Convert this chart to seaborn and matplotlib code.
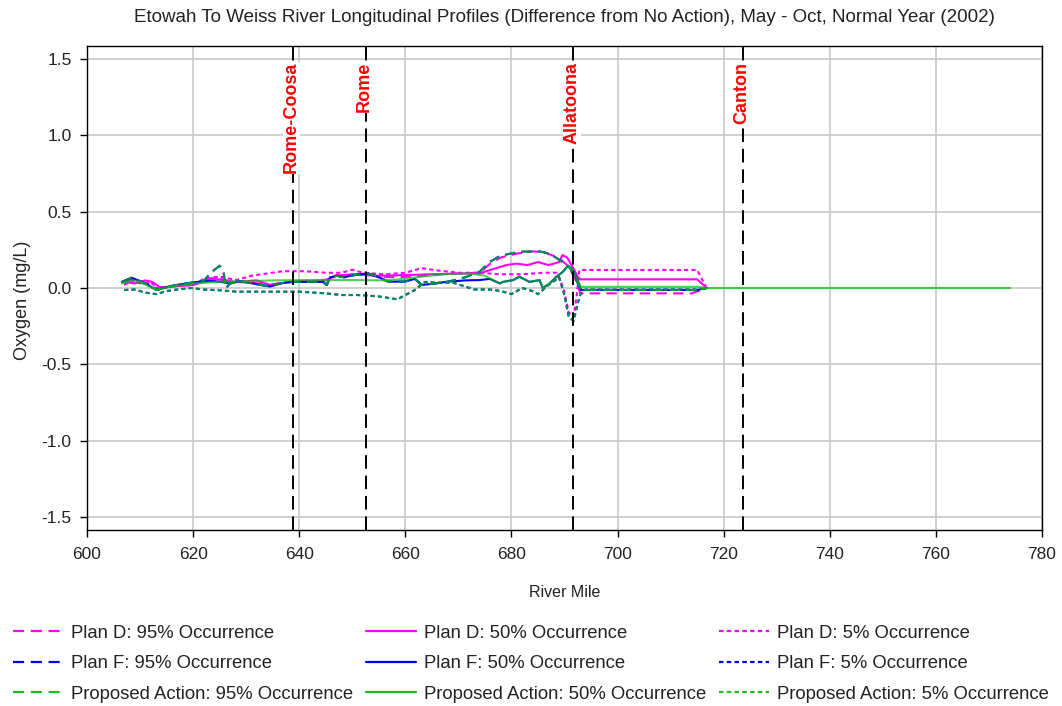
import matplotlib
matplotlib.use("Agg")
import matplotlib.pyplot as plt
from matplotlib.lines import Line2D
import seaborn as sns

# ---- longitudinal profile data: river mile vs oxygen difference (mg/L) ----
plan_d_95_mile = [607, 608.5, 610, 611.5, 613, 615, 617, 619.7, 622, 624, 626, 628, 631, 634.5, 637,
                  640, 644, 645.5, 647, 649, 651, 653, 655.5, 658, 661, 664, 667, 670, 674, 676, 678,
                  681, 684, 686, 688, 689.5, 690.8, 692, 693, 714, 716.8]
plan_d_95_val = [0.03, 0.06, 0.04, 0.03, 0.0, 0.01, 0.02, 0.03, 0.045, 0.07, 0.05, 0.04, 0.035, 0.02, 0.035,
                 0.04, 0.045, 0.06, 0.085, 0.08, 0.09, 0.09, 0.075, 0.07, 0.075, 0.08, 0.09, 0.095, 0.1, 0.16, 0.2,
                 0.225, 0.24, 0.235, 0.21, 0.18, 0.14, 0.06, -0.035, -0.035, 0.0]

plan_d_50_mile = [607, 609, 611, 612.3, 614, 616, 618, 620, 622, 624, 626, 628, 632, 634.5, 636, 640, 645,
                  647, 650, 655, 660, 665, 670, 674, 676, 679, 681, 683, 685, 687, 689, 689.6, 690.5, 691.5,
                  692.5, 693, 715, 716.8]
plan_d_50_val = [0.04, 0.03, 0.05, 0.04, 0.0, 0.01, 0.015, 0.02, 0.04, 0.06, 0.05, 0.04, 0.05, 0.02, 0.03, 0.045,
                 0.05, 0.08, 0.09, 0.08, 0.085, 0.09, 0.095, 0.096, 0.118, 0.15, 0.16, 0.15, 0.17, 0.15, 0.17, 0.216,
                 0.2, 0.14, 0.074, 0.057, 0.057, 0.0]

plan_d_5_mile = [607, 608.5, 610, 612, 613.5, 616, 620, 622, 625, 628.2, 631, 634.5, 637, 641, 645, 648, 650,
                 652, 656, 660, 663, 666, 670, 674, 678, 682, 686, 688.5, 689.8, 690.8, 691.7, 692.3, 692.8,
                 715, 716.8]
plan_d_5_val = [0.02, 0.05, 0.03, 0.035, 0.0, 0.01, 0.02, 0.06, 0.075, 0.052, 0.08, 0.098, 0.11, 0.11, 0.1, 0.1,
                0.12, 0.1, 0.09, 0.1, 0.13, 0.115, 0.1, 0.1, 0.09, 0.09, 0.1, 0.1, 0.0, -0.16, -0.19, -0.05, 0.118,
                0.118, 0.0]

proposed_95_mile = [606.6, 608.4, 610, 611.5, 613.1, 615, 617, 619.7, 622, 623.2, 625, 625.7, 626.2, 627,
                    628.8, 632, 634.5, 636.5, 638.3, 644.5, 645.2, 645.8, 647.1, 648.5, 649.6, 651.5, 653,
                    655.5, 656.8, 659.9, 661.8, 663.1, 665.6, 668.1, 671.3, 674, 675.9, 677.8, 681.5, 685.3,
                    687.2, 689.1, 690.9, 692.2, 693.1, 715, 716.8]
proposed_95_val = [0.04, 0.067, 0.045, 0.02, -0.013, 0.005, 0.02, 0.035, 0.045, 0.096, 0.146, 0.11, 0.0, 0.03,
                   0.046, 0.025, 0.01, 0.03, 0.04, 0.04, 0.02, 0.07, 0.08, 0.07, 0.08, 0.09, 0.096,
                   0.063, 0.042, 0.042, 0.06, 0.02, 0.03, 0.042, 0.07, 0.107, 0.17, 0.21, 0.238, 0.24,
                   0.225, 0.183, 0.14, 0.052, -0.013, -0.013, 0.0]

proposed_50_mile = [606.6, 608.5, 610.5, 613, 616, 620, 625, 630, 635, 640, 645, 650, 656, 660, 663, 667, 672,
                    675, 677.8, 678.4, 680.3, 681.5, 683.4, 685.3, 685.9, 687.2, 688.5, 689.7, 690.5, 691.3,
                    692.2, 693.1, 715, 716.8, 774]
proposed_50_val = [0.03, 0.05, 0.03, -0.01, 0.01, 0.03, 0.04, 0.045, 0.05, 0.052, 0.053, 0.052, 0.05, 0.06, 0.075,
                   0.09, 0.096, 0.08, 0.03, 0.04, 0.052, 0.074, 0.04, 0.052, 0.0, 0.03, 0.074, 0.107, 0.14, 0.13,
                   0.074, 0.008, 0.008, 0.0, 0.0]

proposed_5_mile = [607, 609, 611, 613, 615, 617, 619.7, 622, 625, 628.2, 640, 645, 648, 651, 655, 658.5, 661.8,
                   663.7, 666, 669, 671, 673, 676, 678, 680, 682, 684, 685, 687, 689, 690, 690.8, 691.7, 692.5,
                   693.2, 694, 715, 716.8]
proposed_5_val = [-0.013, -0.01, -0.03, -0.04, -0.02, -0.01, 0.0, -0.01, -0.015, -0.024, -0.024, -0.035, -0.046,
                  -0.046, -0.055, -0.074, -0.013, 0.04, 0.035, 0.035, 0.013, -0.01, -0.01, -0.02, -0.04, 0.0, -0.02,
                  -0.04, 0.02, 0.07, -0.05, -0.19, -0.215, -0.1, -0.02, -0.01, -0.01, 0.0]

plan_f_95_mile = proposed_95_mile
plan_f_95_val = proposed_95_val

plan_f_50_mile = [606.6, 608.4, 610, 611.5, 613.1, 615, 617, 619.7, 622, 624, 626.2, 627,
                  628.8, 632, 634.5, 636.5, 638.3, 644.5, 645.2, 645.8, 647.1, 648.5, 649.6, 651.5, 653,
                  655.5, 656.8, 659.9, 661.8, 663.1, 665.6, 668.1, 671.3, 674, 675.9, 677.8, 678.4, 680.3,
                  681.5, 683.4, 685.3, 685.9, 687.2, 688.5, 689.7, 690.5, 691.3, 692.2, 693.1, 715, 716.8]
plan_f_50_val = [0.04, 0.067, 0.045, 0.02, -0.013, 0.005, 0.02, 0.035, 0.045, 0.045, 0.035, 0.03,
                 0.046, 0.025, 0.01, 0.03, 0.04, 0.04, 0.02, 0.07, 0.08, 0.07, 0.08, 0.09, 0.096,
                 0.063, 0.042, 0.042, 0.06, 0.02, 0.03, 0.042, 0.05, 0.052, 0.06, 0.03, 0.04, 0.052,
                 0.074, 0.04, 0.052, 0.0, 0.03, 0.074, 0.107, 0.14, 0.13, 0.074, -0.013, -0.013, 0.0]

plan_f_5_mile = proposed_5_mile
plan_f_5_val = proposed_5_val

# dam / confluence markers
marker_names = ["Rome-Coosa", "Rome", "Allatoona", "Canton"]
marker_miles = [638.8, 652.6, 691.6, 723.6]

# ---- styling ----
sns.set_style("white")
plt.rcParams["font.family"] = ["Liberation Sans", "DejaVu Sans"]

MAGENTA = "#ff00ff"
BLUE = "#0000ff"
GREEN = "#00c400"
LEGEND_GREEN = "#22bb22"
TEXT = "#222222"
DASH_95 = (5, 3)
DOT_5 = (2, 1.5)

series = [
    ("Plan D: 95% Occurrence", plan_d_95_mile, plan_d_95_val, MAGENTA, DASH_95, 1.0),
    ("Plan D: 50% Occurrence", plan_d_50_mile, plan_d_50_val, MAGENTA, None, 1.0),
    ("Plan D: 5% Occurrence", plan_d_5_mile, plan_d_5_val, MAGENTA, DOT_5, 1.0),
    ("Plan F: 95% Occurrence", plan_f_95_mile, plan_f_95_val, BLUE, DASH_95, 1.0),
    ("Plan F: 50% Occurrence", plan_f_50_mile, plan_f_50_val, BLUE, None, 1.0),
    ("Plan F: 5% Occurrence", plan_f_5_mile, plan_f_5_val, BLUE, DOT_5, 1.0),
    ("Proposed Action: 95% Occurrence", proposed_95_mile, proposed_95_val, GREEN, DASH_95, 0.7),
    ("Proposed Action: 50% Occurrence", proposed_50_mile, proposed_50_val, GREEN, None, 0.7),
    ("Proposed Action: 5% Occurrence", proposed_5_mile, proposed_5_val, GREEN, DOT_5, 0.7),
]

fig = plt.figure(figsize=(10.62, 7.06), dpi=100)
ax = fig.add_axes([0.0819, 0.2493, 0.8993, 0.6855])

for label, miles, vals, color, dash, alpha in series:
    sns.lineplot(x=miles, y=vals, ax=ax, color=color, linewidth=1.5, alpha=alpha,
                 estimator=None, sort=False, legend=False)
    if dash is not None:
        ax.lines[-1].set_dashes(dash)

for name, mile in zip(marker_names, marker_miles):
    ax.axvline(mile, color="black", linewidth=1.4, dashes=(7, 3.5), zorder=3)
    ax.text(mile - 0.25, 1.48, name, rotation=90, ha="center", va="top", color="red",
            fontsize=13, fontweight="bold", zorder=4,
            bbox=dict(facecolor="white", edgecolor="none", pad=0.3))

ax.set_xlim(600, 780)
ax.set_ylim(-1.585, 1.585)
ax.set_xticks(range(600, 781, 20))
ax.set_yticks([-1.5, -1.0, -0.5, 0.0, 0.5, 1.0, 1.5])
ax.set_yticklabels(["-1.5", "-1.0", "-0.5", "0.0", "0.5", "1.0", "1.5"])
ax.grid(True, color="#c8c8c8", linewidth=1.2)
ax.set_axisbelow(True)
for s in ax.spines.values():
    s.set_color("black")
    s.set_linewidth(1.0)
ax.tick_params(axis="both", direction="out", length=5, width=1, color="black",
               labelsize=12.5, labelcolor=TEXT, left=True, bottom=True)
ax.tick_params(axis="x", pad=7)
ax.tick_params(axis="y", pad=6)

ax.set_xlabel("River Mile", fontsize=11.5, color=TEXT, labelpad=17)
ax.set_ylabel("Oxygen (mg/L)", fontsize=13, color=TEXT)
ax.yaxis.set_label_coords(-0.0584, 0.475)
fig.text(0.5316, 1 - 17 / 706, "Etowah To Weiss River Longitudinal Profiles (Difference from No Action), "
         "May - Oct, Normal Year (2002)", ha="center", va="center", fontsize=13.5, color=TEXT)

legend_specs = [
    ("Plan D: 95% Occurrence", MAGENTA, DASH_95),
    ("Plan F: 95% Occurrence", BLUE, DASH_95),
    ("Proposed Action: 95% Occurrence", LEGEND_GREEN, DASH_95),
    ("Plan D: 50% Occurrence", MAGENTA, None),
    ("Plan F: 50% Occurrence", BLUE, None),
    ("Proposed Action: 50% Occurrence", LEGEND_GREEN, None),
    ("Plan D: 5% Occurrence", MAGENTA, DOT_5),
    ("Plan F: 5% Occurrence", BLUE, DOT_5),
    ("Proposed Action: 5% Occurrence", LEGEND_GREEN, DOT_5),
]
handles = []
for lbl, c, d in legend_specs:
    h = Line2D([], [], color=c, linewidth=1.6)
    if d is not None:
        h.set_dashes(d)
    handles.append(h)
fig.legend(handles, [s[0] for s in legend_specs], ncol=3, loc="upper left",
           bbox_to_anchor=(-0.0032, 0.1385), frameon=False, fontsize=13.3,
           handlelength=2.7, handletextpad=0.42, columnspacing=0.72, labelspacing=0.73,
           labelcolor=TEXT)

fig.savefig("out.png", dpi=100)
